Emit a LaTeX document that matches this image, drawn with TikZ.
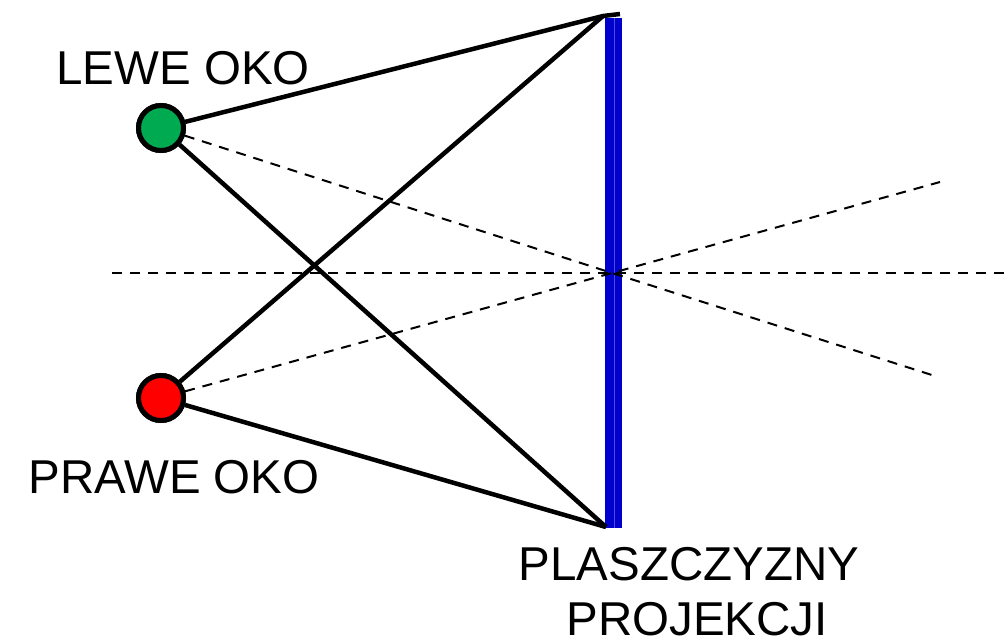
\documentclass[tikz,border=0pt]{standalone}
\usepackage{fontspec}
\setmainfont{Liberation Sans}
\usetikzlibrary{positioning}
\definecolor{okogreen}{RGB}{0,170,80}
\definecolor{ekran}{RGB}{0,0,205}
\tikzset{eye/.style={circle,draw,line width=5pt,minimum size=45pt,inner sep=0pt},
ray/.style={line width=4.5pt},
axis/.style={line width=2pt,dash pattern=on 10pt off 8pt},
label/.style={font=\fontsize{47.5}{55}\selectfont,inner sep=0pt,anchor=base}
}

\begin{document}
\begin{tikzpicture}[x=1pt,y=-1pt]
    \useasboundingbox (0,0) rectangle (1004,640);

    \node[eye,fill=okogreen] (L) at (161,128) {};
    \node[eye,fill=red]      (R) at (161,398) {};
    \node[label] (Ltxt)  at (183,84)  {LEWE OKO};
    \node[label] (Rtxt)  at (174,493) {PRAWE OKO};
    \node[label] (Ptxt)  at (689,580) {PLASZCZYZNY};
    \node[label] (Ptxt2) at (697,635) {PROJEKCJI};

    \coordinate (top) at (603,16);
    \coordinate (tip) at (620,14);
    \coordinate (bot) at (606,527);
    \coordinate (c)   at (612,273);
    \coordinate (hl)  at (112,273);
    \coordinate (hr)  at (1004,273);
    \coordinate (dl)  at (935,376);
    \coordinate (dr)  at (940,182);

    % projection plane
    \fill[ekran] (605,18) rectangle (622,528);
    \draw[ekran!70!white,line width=0.8pt] (614,18) -- (614,528);

    % optical axes
    \draw[axis] (hl) -- (hr);
    \draw[axis] (L) -- (c) -- (dl);
    \draw[axis] (R) -- (c) -- (dr);

    % rays to the plane edges
    \draw[ray] (L) -- (top) -- (tip);
    \draw[ray] (L) -- (bot);
    \draw[ray] (R) -- (top);
    \draw[ray] (R) -- (bot);

    \node[eye,fill=okogreen] at (L) {};
    \node[eye,fill=red] at (R) {};
\end{tikzpicture}
\end{document}
